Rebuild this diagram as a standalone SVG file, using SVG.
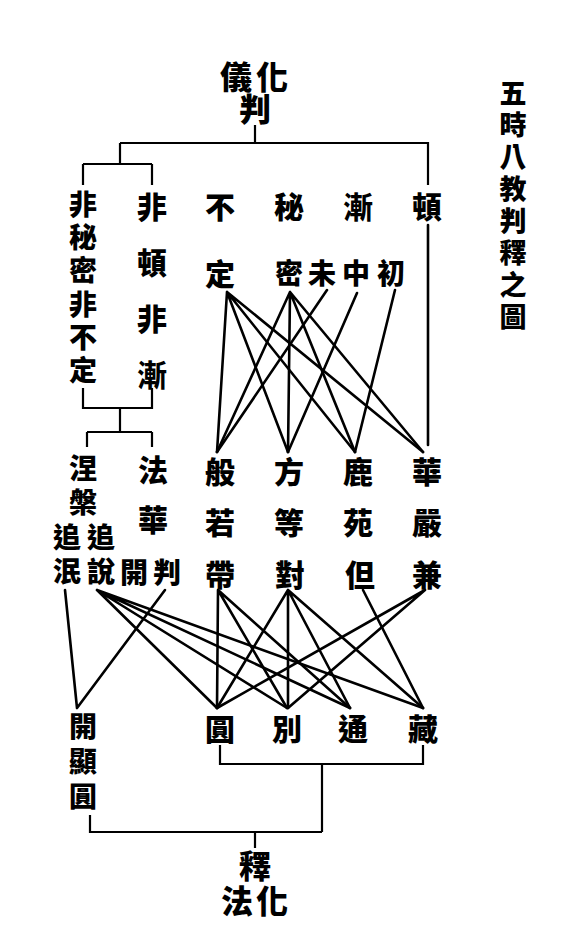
<svg xmlns="http://www.w3.org/2000/svg" width="561" height="948" viewBox="0 0 561 948">
<style>
text{font-family:"Noto Sans CJK TC","Noto Sans CJK SC",sans-serif;font-weight:900;font-size:30px;fill:#000;text-anchor:middle;dominant-baseline:central}
.v{writing-mode:vertical-rl;glyph-orientation-vertical:0}
.t{font-size:27px;letter-spacing:5px}
.b{font-size:32px}
.s{font-size:28px}
.c path{stroke:#000;stroke-width:2.6;fill:none;stroke-linecap:round}
.br path{stroke:#000;stroke-width:2.2;fill:none}
</style>
<rect width="561" height="948" fill="#fff"/>
<g id="title"><text class="v t" x="513" y="207">五時八教判釋之圖</text></g>
<g id="huayi"><text class="b" x="236 272 255" y="75 75 107">儀化判</text></g>
<g id="huafa"><text class="b" x="255 237 272" y="864 899 899">釋法化</text></g>
<g id="feimi"><text class="v s" x="83" y="290" style="letter-spacing:5.2px">非秘密非不定</text></g>
<g id="feidun"><text><tspan x="152" y="205">非</tspan><tspan x="152" y="261">頓</tspan><tspan x="152" y="317">非</tspan><tspan x="152" y="373">漸</tspan></text></g>
<g id="buding"><text><tspan x="220" y="205">不</tspan><tspan x="220" y="272">定</tspan></text></g>
<g id="mimi"><text x="289" y="205">秘</text><text class="s" x="289" y="272">密</text></g>
<g id="jian"><text x="358" y="205">漸</text><text class="s"><tspan x="322" y="272">未</tspan><tspan x="356" y="272">中</tspan><tspan x="391" y="272">初</tspan></text></g>
<g id="dun"><text x="427" y="205">頓</text></g>
<g id="niepan"><text class="v s" x="83" y="488" style="letter-spacing:6px">涅槃</text><text class="v s" x="67" y="557" style="letter-spacing:6px">追泯</text><text class="v s" x="101" y="557" style="letter-spacing:6px">追說</text></g>
<g id="fahua"><text><tspan x="153" y="468">法</tspan><tspan x="153" y="518">華</tspan></text><text class="s"><tspan x="134" y="571">開</tspan><tspan x="167" y="571">判</tspan></text></g>
<g id="bore"><text><tspan x="220" y="470">般</tspan><tspan x="220" y="521">若</tspan><tspan x="220" y="573">帶</tspan></text></g>
<g id="fangdeng"><text><tspan x="289" y="470">方</tspan><tspan x="289" y="521">等</tspan><tspan x="290" y="573">對</tspan></text></g>
<g id="luyuan"><text><tspan x="358" y="470">鹿</tspan><tspan x="358" y="521">苑</tspan><tspan x="360" y="573">但</tspan></text></g>
<g id="huayan"><text><tspan x="427" y="470">華</tspan><tspan x="427" y="521">嚴</tspan><tspan x="427" y="573">兼</tspan></text></g>
<g id="kaixian"><text class="v s" x="83" y="765" style="letter-spacing:7px">開顯圓</text></g>
<g id="yuan"><text x="220" y="727">圓</text></g>
<g id="bie"><text x="287" y="727">別</text></g>
<g id="tong"><text x="353" y="727">通</text></g>
<g id="zang"><text x="423" y="727">藏</text></g>
<g id="connectors">
<g class="br">
<path d="M255,125 V143 M120,143 H428 V185 M120,143 V164 M83,164 H152 M83,164 V185 M152,164 V185"/>
<path d="M83,388 V408 H152 V388 M120,408 V432 M87,432 H152 M87,432 V447 M152,432 V447"/>
<path d="M220,745 V764 H423 V745 M322,764 V832 M90,815 V832 H322 M255,832 V848"/>
</g>
<g class="c">
<path d="M428,225 V445"/>
<path d="M227,292 L217,452 M227,292 L288,452 M227,292 L355,452 M227,292 L423,452"/>
<path d="M290,292 L217,452 M290,292 L288,452 M290,292 L355,452 M290,292 L423,452"/>
<path d="M327,290 L217,452 M357,293 L288,452 M395,290 L355,452"/>
<path d="M65,590 L77,708 M165,590 L77,708"/>
<path d="M97,590 L217,708 M97,590 L287,708 M97,590 L350,708 M97,590 L423,708"/>
<path d="M218,590 L217,708 M218,590 L287,708 M218,590 L350,708"/>
<path d="M288,590 L217,708 M288,590 L288,708 M288,590 L350,708 M288,590 L423,708"/>
<path d="M363,590 L423,708"/>
<path d="M425,590 L217,708 M425,590 L288,708"/>
</g>
</g>
</svg>
